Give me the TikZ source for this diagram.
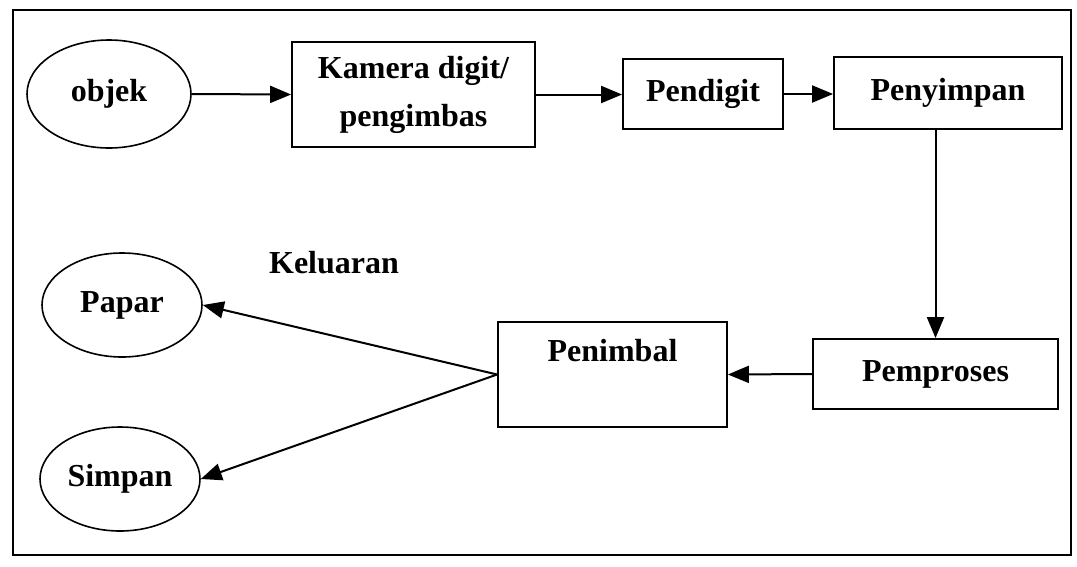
\documentclass[tikz,border=0pt]{standalone}
\usepackage{fontspec}
\setmainfont{Liberation Serif}
\usetikzlibrary{arrows.meta,shapes.geometric}
\begin{document}
\begin{tikzpicture}[x=1pt,y=-1pt,
  every node/.style={font=\fontsize{32}{48}\selectfont\bfseries, inner sep=0pt},
  box/.style={draw, line width=1.8pt, rectangle, align=center},
  oval/.style={draw, line width=1.6pt, ellipse},
  arr/.style={line width=2pt, -{Triangle[length=21pt,width=17pt]}}]
\useasboundingbox (0,0) rectangle (1077,566);
\draw[line width=1.6pt] (13,10) rectangle (1071,555);

\node[oval, minimum width=164, minimum height=108] (objek) at (109,94) {objek};
\node[box, minimum width=243, minimum height=105] (kamera) at (413.5,94.5) {Kamera digit/\\pengimbas};
\node[box, minimum width=160, minimum height=70] (pendigit) at (703,94) {Pendigit};
\node[box, minimum width=228, minimum height=72] (penyimpan) at (948,93) {Penyimpan};
\node[box, minimum width=245, minimum height=70] (pemproses) at (935.5,374) {Pemproses};
\node[box, minimum width=229, minimum height=105] (penimbal) at (612.5,374.5) {};
\node (penimbaltext) at (612.5,351) {Penimbal};
\node[oval, minimum width=160, minimum height=104] (papar) at (122,305) {Papar};
\node[oval, minimum width=160, minimum height=104] (simpan) at (120,479) {Simpan};
\node (keluaran) at (334,263) {Keluaran};

\draw[arr] (objek.east) -- (kamera.west);
\draw[arr] (kamera.east) -- (kamera.east -| pendigit.west);
\draw[arr] (pendigit.east) -- (pendigit.east -| penyimpan.west);
\draw[arr] (pemproses.north |- penyimpan.south) -- (pemproses.north);
\draw[arr] (pemproses.west) -- (penimbal.east);
\draw[arr] (penimbal.west) -- (papar.east);
\draw[arr] (penimbal.west) -- (simpan.east);
\end{tikzpicture}
\end{document}
